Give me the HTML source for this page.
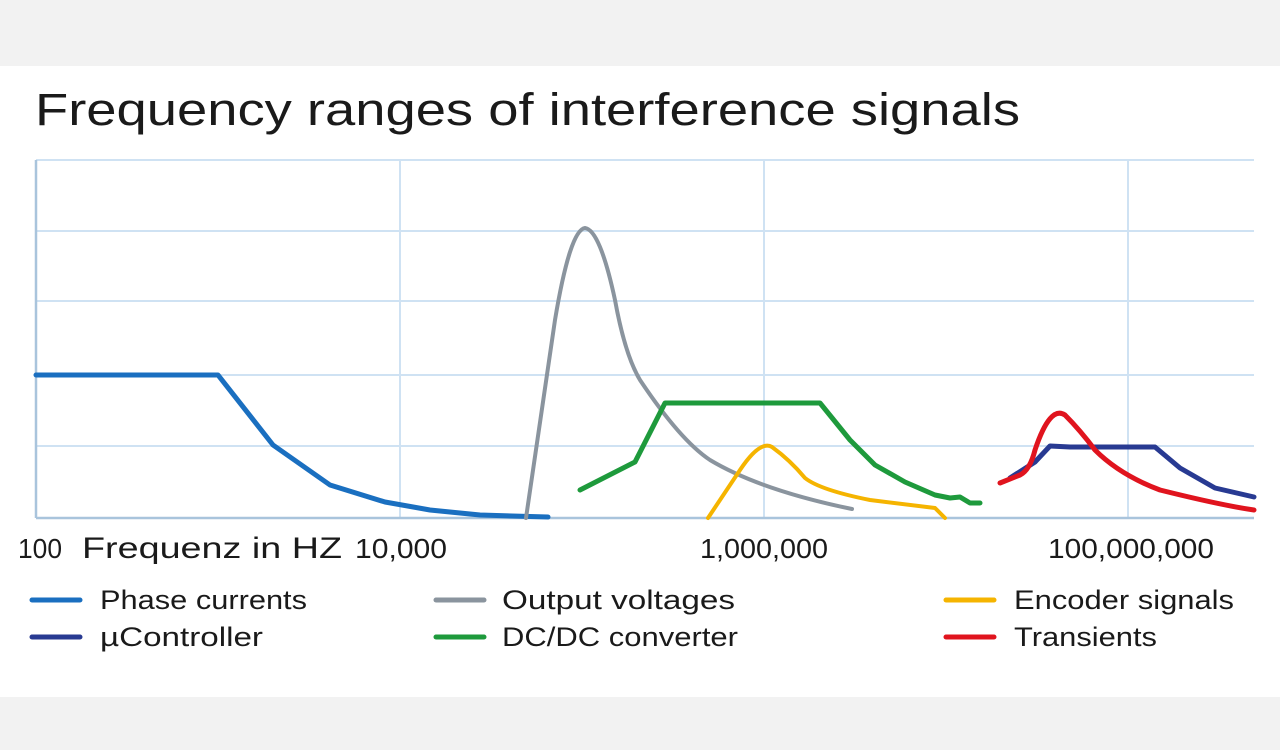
<!DOCTYPE html>
<html><head><style>
html,body{margin:0;padding:0;width:1280px;height:750px;overflow:hidden;background:#f3f3f3;}
svg{display:block}
</style></head><body>
<svg width="1280" height="750" xmlns="http://www.w3.org/2000/svg" font-family="Liberation Sans, sans-serif">
<rect x="0" y="0" width="1280" height="750" fill="#f2f2f2"/>
<rect x="0" y="66" width="1280" height="631" fill="#ffffff"/>
<text x="35" y="125" font-size="45" fill="#1a1a1a" textLength="985" lengthAdjust="spacingAndGlyphs">Frequency ranges of interference signals</text>
<g stroke="#cfe2f3" stroke-width="2">
<line x1="36" y1="160" x2="1254" y2="160"/>
<line x1="36" y1="231" x2="1254" y2="231"/>
<line x1="36" y1="301" x2="1254" y2="301"/>
<line x1="36" y1="375" x2="1254" y2="375"/>
<line x1="36" y1="446" x2="1254" y2="446"/>
<line x1="400" y1="160" x2="400" y2="518"/>
<line x1="764" y1="160" x2="764" y2="518"/>
<line x1="1128" y1="160" x2="1128" y2="518"/>
</g>
<line x1="36" y1="518" x2="1254" y2="518" stroke="#a9c4dc" stroke-width="2.5"/>
<line x1="36" y1="160" x2="36" y2="518" stroke="#a9c4dc" stroke-width="2.5"/>
<g fill="none" stroke-width="4" stroke-linejoin="round" stroke-linecap="round">
<path d="M36,375 L218,375 L273,445 L330,485 L385,502 L430,510 L480,515 L548,517" stroke="#1a6fc0" stroke-width="5"/>
<path d="M526,518 L555,320 Q570,230 585,228 Q600,230 615,300 Q625,355 640,380 Q680,440 710,460 Q760,490 852,509" stroke="#8a949e"/>
<path d="M580,490 L635,462 L665,403 L820,403 L850,440 L875,465 L905,482 L935,495 L950,498 L960,497 L970,503 L980,503" stroke="#1e9a3c" stroke-width="5"/>
<path d="M708,518 L740,470 Q760,440 772,447 Q790,460 805,478 Q820,490 870,500 L935,508 L945,518" stroke="#f5b400"/>
<path d="M1010,478 L1035,462 L1050,446 L1070,447 L1155,447 L1180,468 L1215,488 L1254,497" stroke="#283a92" stroke-width="5"/>
<path d="M1000,483 L1020,475 Q1030,470 1035,450 Q1050,405 1065,415 Q1080,430 1095,450 Q1120,475 1160,490 Q1220,505 1254,510" stroke="#e0141e" stroke-width="5"/>
</g>
<g font-size="28" fill="#1a1a1a">
<text x="18" y="558" textLength="44" lengthAdjust="spacingAndGlyphs">100</text>
<text x="82" y="558" font-size="30" textLength="260" lengthAdjust="spacingAndGlyphs">Frequenz in HZ</text>
<text x="355" y="558" textLength="92" lengthAdjust="spacingAndGlyphs">10,000</text>
<text x="700" y="558" textLength="128" lengthAdjust="spacingAndGlyphs">1,000,000</text>
<text x="1048" y="558" textLength="166" lengthAdjust="spacingAndGlyphs">100,000,000</text>
</g>
<g stroke-width="5" stroke-linecap="round">
<line x1="32" y1="600" x2="80" y2="600" stroke="#1a6fc0"/>
<line x1="32" y1="637" x2="80" y2="637" stroke="#283a92"/>
<line x1="436" y1="600" x2="484" y2="600" stroke="#8a949e"/>
<line x1="436" y1="637" x2="484" y2="637" stroke="#1e9a3c"/>
<line x1="946" y1="600" x2="994" y2="600" stroke="#f5b400"/>
<line x1="946" y1="637" x2="994" y2="637" stroke="#e0141e"/>
</g>
<g font-size="27" fill="#1a1a1a">
<text x="100" y="609" textLength="207" lengthAdjust="spacingAndGlyphs">Phase currents</text>
<text x="100" y="646" textLength="163" lengthAdjust="spacingAndGlyphs">µController</text>
<text x="502" y="609" textLength="233" lengthAdjust="spacingAndGlyphs">Output voltages</text>
<text x="502" y="646" textLength="236" lengthAdjust="spacingAndGlyphs">DC/DC converter</text>
<text x="1014" y="609" textLength="220" lengthAdjust="spacingAndGlyphs">Encoder signals</text>
<text x="1014" y="646" textLength="143" lengthAdjust="spacingAndGlyphs">Transients</text>
</g>
</svg>
</body></html>
